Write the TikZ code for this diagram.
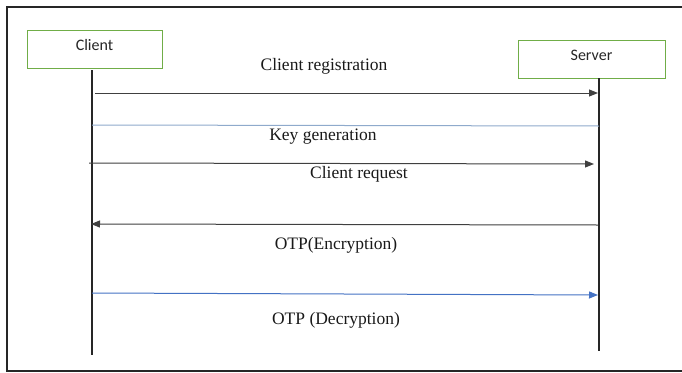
\documentclass[tikz,border=0pt]{standalone}
\usepackage{fontspec}
\setmainfont{Liberation Serif}
\newfontfamily\boxfont{Carlito}
\usetikzlibrary{arrows.meta}
\definecolor{boxgreen}{HTML}{70AD47}
\definecolor{msgblue}{HTML}{4472C4}
\definecolor{lightblue}{HTML}{8FAACC}
\tikzset{
  actor/.style={draw=boxgreen, line width=1.3pt, minimum width=135pt, minimum height=38pt, inner sep=0pt, anchor=north west},
  actorlbl/.style={font=\boxfont\fontsize{16}{18}\selectfont, inner sep=0pt, text=black!85},
  lifeline/.style={line width=1.1pt, draw=black!85},
  msg/.style={line width=1pt, draw=black!75, -{Triangle[length=9pt,width=7pt]}},
  bluemsg/.style={line width=1pt, draw=msgblue, -{Triangle[length=9pt,width=7pt]}},
  plainline/.style={line width=1pt, draw=lightblue},
  lbl/.style={font=\fontsize{17.5}{20}\selectfont, text=black!90, inner sep=0pt},
  frame/.style={line width=2pt, draw=black!85}
}
\begin{document}
\begin{tikzpicture}[x=1pt,y=-1pt]
\fill[white] (0,0) rectangle (682,372);
\useasboundingbox (0,0) rectangle (682,372);
% frame (top, left, bottom)
\draw[frame] (682,7) -- (6.5,7) -- (6.5,370.5) -- (682,370.5);
% actors
\node[actor] (client) at (27,30) {};
\node[actorlbl] (clientlbl) at (94.5,45) {Client};
\node[actor, minimum width=147pt] (server) at (518,40) {};
\node[actorlbl] (serverlbl) at (591.5,55) {Server};
% lifelines
\coordinate (ctop) at (92,70);
\coordinate (cbot) at (92,355);
\coordinate (stop) at (599,78);
\coordinate (sbot) at (599,351);
\draw[lifeline] (ctop) -- (cbot);
\draw[lifeline] (stop) -- (sbot);
% messages
\coordinate (m1a) at (95,93);   \coordinate (m1b) at (598,93);
\coordinate (m2a) at (92,125);  \coordinate (m2b) at (599,126);
\coordinate (m3a) at (89,163);  \coordinate (m3b) at (594,164);
\coordinate (m4a) at (598,225); \coordinate (m4b) at (91,224);
\coordinate (m5a) at (92,293);  \coordinate (m5b) at (598,295);
\draw[msg] (m1a) -- (m1b);
\draw[plainline] (m2a) -- (m2b);
\draw[msg] (m3a) -- (m3b);
\draw[msg] (m4a) -- (m4b);
\draw[bluemsg] (m5a) -- (m5b);
% labels
\node[lbl] (l1) at (324,66) {Client registration};
\node[lbl] (l2) at (323,137) {Key generation};
\node[lbl] (l3) at (359,174) {Client request};
\node[lbl] (l4) at (336,245) {OTP(Encryption)};
\node[lbl] (l5) at (336,320) {OTP (Decryption)};
\end{tikzpicture}
\end{document}
